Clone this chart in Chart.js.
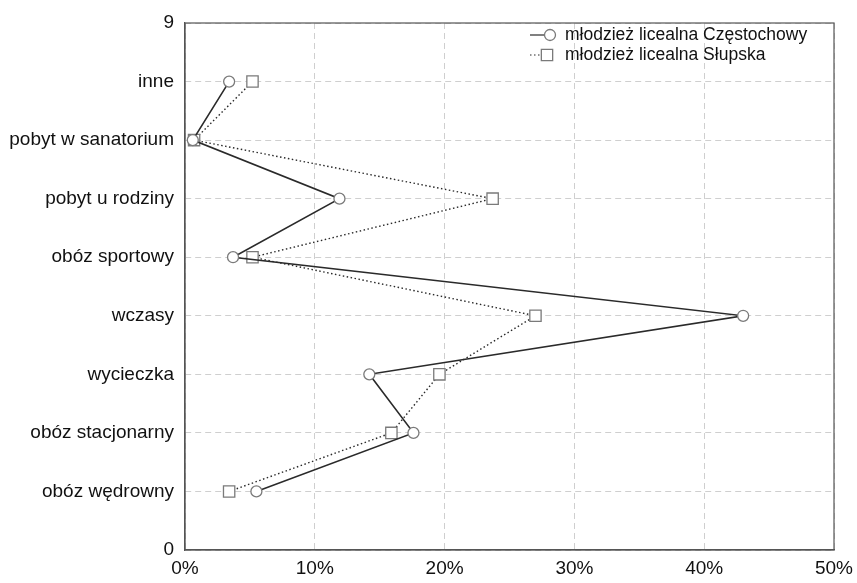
<!DOCTYPE html>
<html>
<head>
<meta charset="utf-8">
<script src="https://cdn.jsdelivr.net/npm/chart.js@4/dist/chart.umd.min.js"></script>
<style>
html,body{margin:0;padding:0;background:#fff;}
#wrap{position:relative;width:857px;height:583px;}
</style>
</head>
<body>
<div id="wrap"><canvas id="c" width="857" height="583"></canvas></div>
<script>
// y positions 1..8 (bottom to top)
const categories = ['obóz wędrowny','obóz stacjonarny','wycieczka','wczasy','obóz sportowy','pobyt u rodziny','pobyt w sanatorium','inne'];
const czestochowa = [5.5, 17.6, 14.2, 43.0, 3.7, 11.9, 0.6, 3.4];
const slupsk = [3.4, 15.9, 19.6, 27.0, 5.2, 23.7, 0.7, 5.2];
const seriesNames = ['młodzież licealna Częstochowy','młodzież licealna Słupska'];
const xTicks = [0, 10, 20, 30, 40, 50];
const yTickLabels = ['0', ...categories, '9'];

const toPoints = arr => arr.map((v, i) => ({x: v, y: i + 1}));

const FONT = '"Liberation Sans", Arial, sans-serif';

const boxPlugin = {
  id: 'box',
  afterDraw(chart) {
    const {ctx, chartArea: a} = chart;
    ctx.save();
    ctx.strokeStyle = '#555';
    ctx.lineWidth = 1.2;
    ctx.setLineDash([]);
    ctx.strokeRect(a.left, a.top, a.right - a.left, a.bottom - a.top);
    ctx.restore();
  }
};

const legendPlugin = {
  id: 'inLegend',
  afterDraw(chart) {
    const {ctx} = chart;
    ctx.save();
    ctx.font = '17.5px ' + FONT;
    ctx.textBaseline = 'middle';
    const rows = [35, 55];
    chart.data.datasets.forEach((ds, i) => {
      const y = rows[i];
      ctx.strokeStyle = ds.borderColor;
      ctx.lineWidth = 1.2;
      ctx.setLineDash(ds.borderDash || []);
      ctx.beginPath();
      ctx.moveTo(530, y);
      ctx.lineTo(545, y);
      ctx.stroke();
      ctx.setLineDash([]);
      ctx.fillStyle = ds.pointBackgroundColor;
      ctx.strokeStyle = ds.pointBorderColor;
      ctx.lineWidth = ds.pointBorderWidth;
      Chart.helpers.drawPoint(ctx, {
        pointStyle: ds.pointStyle, radius: ds.pointRadius, borderWidth: ds.pointBorderWidth
      }, i === 0 ? 550 : 547, y);
      ctx.fillStyle = '#111';
      ctx.fillText(ds.label, 565, y);
    });
    ctx.restore();
  }
};

new Chart(document.getElementById('c'), {
  type: 'scatter',
  data: {
    datasets: [
      {
        label: seriesNames[0],
        data: toPoints(czestochowa),
        showLine: true,
        borderColor: '#2a2a2a',
        borderWidth: 1.6,
        pointStyle: 'circle',
        pointRadius: 5.5,
        pointBorderColor: '#7a7a7a',
        pointBackgroundColor: '#ffffff',
        pointBorderWidth: 1.3
      },
      {
        label: seriesNames[1],
        data: toPoints(slupsk),
        showLine: true,
        borderColor: '#2a2a2a',
        borderWidth: 1.4,
        borderDash: [1.5, 2.5],
        pointStyle: 'rect',
        pointRadius: 8,
        pointBorderColor: '#7a7a7a',
        pointBackgroundColor: '#ffffff',
        pointBorderWidth: 1.3
      }
    ]
  },
  options: {
    responsive: false,
    animation: false,
    layout: {padding: {top: 23, right: 23, bottom: 0, left: 0}},
    plugins: {legend: {display: false}, tooltip: {enabled: false}},
    scales: {
      x: {
        type: 'linear',
        min: 0, max: 50,
        afterBuildTicks: s => { s.ticks = xTicks.map(v => ({value: v})); },
        ticks: {
          callback: v => v + '%',
          font: {family: FONT, size: 19},
          color: '#111',
          padding: 7,
          maxRotation: 0
        },
        grid: {color: '#cfcfcf', lineWidth: 1, drawTicks: false},
        border: {color: '#555', width: 1.2, dash: [6, 4]},
        afterFit: s => { s.height = 33; s.paddingLeft = 0; s.paddingRight = 0; }
      },
      y: {
        type: 'linear',
        min: 0, max: 9,
        afterBuildTicks: s => { s.ticks = yTickLabels.map((_, i) => ({value: i})); },
        ticks: {
          callback: v => yTickLabels[v],
          font: {family: FONT, size: 19},
          color: '#111',
          padding: 11
        },
        grid: {color: '#cfcfcf', lineWidth: 1, drawTicks: false},
        border: {color: '#555', width: 1.2, dash: [6, 4]},
        afterFit: s => { s.width = 185; s.paddingTop = 0; s.paddingBottom = 0; }
      }
    }
  },
  plugins: [boxPlugin, legendPlugin]
});
</script>
</body>
</html>
